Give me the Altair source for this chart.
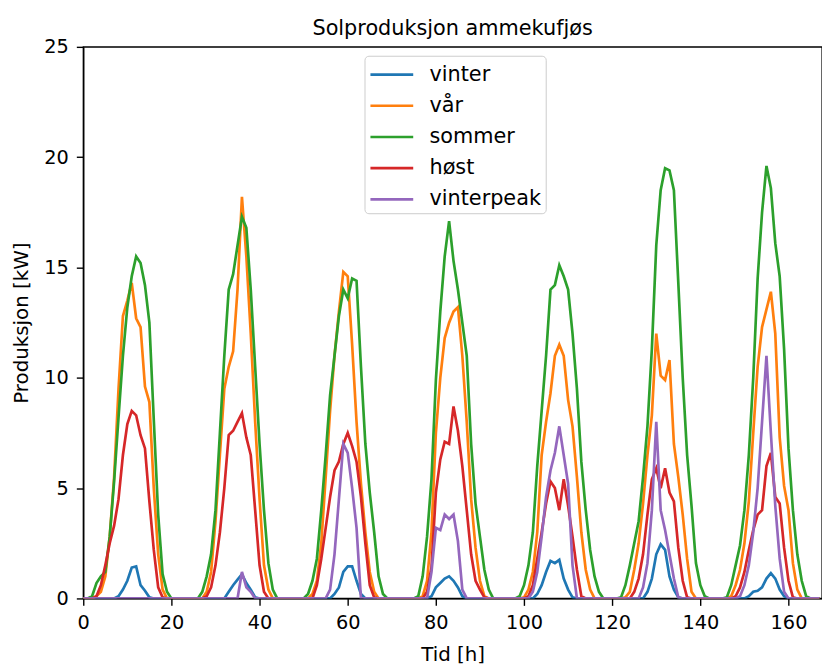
import altair as alt
import pandas as pd

# hourly production [kW] for one week (0..167 h)
vinter = [
    0, 0, 0, 0, 0, 0, 0, 0, 0.1, 0.4, 0.8, 1.4, 1.45, 0.6, 0.35, 0.05, 0, 0, 0, 0, 0, 0, 0, 0,
    0, 0, 0, 0, 0, 0, 0, 0, 0, 0.3, 0.6, 0.85, 1.1, 0.7, 0.4, 0.05, 0, 0, 0, 0, 0, 0, 0, 0,
    0, 0, 0, 0, 0, 0, 0, 0, 0, 0.2, 0.5, 1.2, 1.45, 1.45, 0.8, 0.2, 0, 0, 0, 0, 0, 0, 0, 0,
    0, 0, 0, 0, 0, 0, 0, 0.1, 0.5, 0.7, 0.9, 1.0, 0.8, 0.5, 0.1, 0, 0, 0, 0, 0, 0, 0, 0, 0,
    0, 0, 0, 0, 0, 0, 0, 0.2, 0.6, 1.2, 1.7, 1.6, 1.75, 0.9, 0.4, 0.05, 0, 0, 0, 0, 0, 0, 0, 0,
    0, 0, 0, 0, 0, 0, 0, 0, 0.3, 0.9, 2.0, 2.45, 2.2, 1.0, 0.4, 0.05, 0, 0, 0, 0, 0, 0, 0, 0,
    0, 0, 0, 0, 0, 0, 0, 0.1, 0.3, 0.35, 0.5, 0.9, 1.15, 0.9, 0.4, 0.1, 0, 0, 0, 0, 0, 0, 0, 0,
]
vaar = [
    0, 0, 0, 0.1, 0.3, 1.0, 2.8, 5.5, 9.5, 12.8, 13.5, 14.3, 12.7, 12.3, 9.6, 8.9, 5.0, 2.0, 0.4, 0, 0, 0, 0, 0,
    0, 0, 0, 0, 0.3, 1.2, 3.5, 6.5, 9.5, 10.5, 11.2, 14.0, 18.2, 15.5, 12.0, 8.0, 4.5, 1.5, 0.4, 0, 0, 0, 0, 0,
    0, 0, 0, 0, 0.2, 0.8, 2.5, 5.5, 8.5, 11.0, 13.0, 14.8, 14.6, 11.5, 8.0, 5.2, 3.0, 1.2, 0.3, 0, 0, 0, 0, 0,
    0, 0, 0, 0, 0, 0.1, 0.8, 3.0, 7.5, 10.0, 11.8, 12.5, 13.0, 13.2, 11.0, 8.0, 4.5, 2.3, 0.8, 0.1, 0, 0, 0, 0,
    0, 0, 0, 0, 0.05, 0.4, 1.2, 3.0, 6.5, 8.0, 9.3, 11.0, 11.5, 11.0, 9.0, 7.8, 5.5, 3.0, 1.3, 0.4, 0, 0, 0, 0,
    0, 0, 0, 0.05, 0.3, 1.3, 2.5, 4.3, 6.5, 8.3, 12.0, 10.1, 9.9, 10.8, 7.0, 5.5, 3.8, 1.8, 0.3, 0, 0, 0, 0, 0,
    0, 0, 0, 0.1, 0.6, 1.3, 2.5, 4.4, 7.5, 10.5, 12.3, 13.1, 13.9, 12.0, 7.3, 5.1, 4.0, 1.6, 0.4, 0, 0, 0, 0, 0,
]
sommer = [
    0, 0, 0.1, 0.7, 1.0, 1.2, 2.8, 5.3, 8.2, 11.0, 13.2, 14.6, 15.5, 15.2, 14.2, 12.5, 8.1, 3.8, 1.1, 0.3, 0, 0, 0, 0,
    0, 0, 0, 0.3, 1.0, 2.0, 4.0, 7.5, 11.0, 14.0, 14.7, 16.0, 17.3, 16.8, 14.0, 10.5, 7.0, 4.0, 1.6, 0.4, 0, 0, 0, 0,
    0, 0, 0, 0.2, 0.8, 1.8, 4.0, 6.5, 9.2, 11.0, 12.8, 14.0, 13.6, 14.5, 14.4, 10.5, 7.0, 4.8, 3.0, 1.0, 0.2, 0, 0, 0,
    0, 0, 0, 0, 0.1, 1.0, 2.8, 5.4, 9.9, 13.0, 15.5, 17.1, 15.3, 14.0, 12.5, 11.0, 7.0, 4.3, 2.8, 1.3, 0.4, 0, 0, 0,
    0, 0, 0, 0.1, 0.6, 1.5, 3.0, 6.0, 8.5, 11.0, 14.0, 14.2, 15.1, 14.6, 14.0, 12.0, 9.5, 6.2, 4.0, 2.2, 1.0, 0.3, 0, 0,
    0, 0, 0.05, 0.6, 1.5, 2.5, 3.5, 5.5, 7.8, 11.3, 16.0, 18.5, 19.5, 19.4, 18.5, 14.3, 10.0, 6.5, 4.2, 1.6, 0.6, 0.1, 0, 0,
    0, 0, 0.05, 0.6, 1.5, 2.4, 4.0, 6.5, 10.0, 14.5, 17.5, 19.6, 18.6, 16.1, 14.6, 11.3, 6.8, 4.0, 2.0, 0.8, 0.1, 0, 0, 0,
]
hoest = [
    0, 0, 0, 0.1, 0.6, 1.5, 2.5, 3.3, 4.5, 6.5, 7.9, 8.5, 8.3, 7.4, 6.8, 4.4, 2.2, 0.5, 0.05, 0, 0, 0, 0, 0,
    0, 0, 0, 0, 0.1, 0.5, 1.5, 3.0, 5.0, 7.4, 7.6, 8.0, 8.4, 7.3, 6.5, 4.0, 1.5, 0.3, 0, 0, 0, 0, 0, 0,
    0, 0, 0, 0, 0, 0.6, 1.8, 3.2, 4.6, 5.8, 6.2, 7.0, 7.5, 6.9, 6.2, 4.6, 2.5, 0.6, 0.05, 0, 0, 0, 0, 0,
    0, 0, 0, 0, 0, 0, 0.3, 1.4, 4.8, 6.3, 7.1, 7.0, 8.7, 7.6, 6.0, 4.0, 2.0, 0.8, 0.4, 0.05, 0, 0, 0, 0,
    0, 0, 0, 0, 0, 0.1, 0.6, 1.8, 3.0, 4.3, 5.3, 5.0, 4.0, 5.4, 4.2, 2.8, 1.3, 0.1, 0, 0, 0, 0, 0, 0,
    0, 0, 0, 0, 0, 0.3, 0.9, 2.0, 3.8, 5.4, 5.9, 5.0, 5.9, 4.8, 4.4, 2.3, 0.8, 0.05, 0, 0, 0, 0, 0, 0,
    0, 0, 0, 0, 0.1, 0.5, 1.2, 2.2, 3.1, 3.8, 4.0, 6.0, 6.6, 4.6, 4.3, 2.3, 0.8, 0.05, 0, 0, 0, 0, 0, 0,
]
vinterpeak = [
    0, 0, 0, 0, 0, 0, 0, 0, 0, 0, 0, 0, 0, 0, 0, 0, 0, 0, 0, 0, 0, 0, 0, 0,
    0, 0, 0, 0, 0, 0, 0, 0, 0, 0, 0, 0, 1.2, 0.5, 0.3, 0, 0, 0, 0, 0, 0, 0, 0, 0,
    0, 0, 0, 0, 0, 0, 0, 0, 0.4, 2.0, 4.5, 7.0, 6.6, 5.0, 3.2, 0, 0, 0, 0, 0, 0, 0, 0, 0,
    0, 0, 0, 0, 0, 0, 0, 1.2, 3.2, 3.1, 3.8, 3.6, 3.8, 2.6, 0.4, 0, 0, 0, 0, 0, 0, 0, 0, 0,
    0, 0, 0, 0, 0, 0, 0.3, 1.2, 2.8, 4.6, 5.8, 6.6, 7.8, 6.5, 5.2, 1.5, 0, 0, 0, 0, 0, 0, 0, 0,
    0, 0, 0, 0, 0, 0, 0, 0.5, 1.6, 4.0, 8.0, 4.0, 3.1, 2.0, 0.9, 0.05, 0, 0, 0, 0, 0, 0, 0, 0,
    0, 0, 0, 0, 0, 0.1, 0.6, 1.5, 3.0, 5.0, 8.0, 11.0, 7.5, 4.2, 1.8, 0.3, 0, 0, 0, 0, 0, 0, 0, 0,
]

series = ["vinter", "vår", "sommer", "høst", "vinterpeak"]
colors = ["#1f77b4", "#ff7f0e", "#2ca02c", "#d62728", "#9467bd"]

rows = []
for name, vals in zip(series, [vinter, vaar, sommer, hoest, vinterpeak]):
    for h, v in enumerate(vals):
        rows.append({"Tid": h, "Produksjon": v, "serie": name})
df = pd.DataFrame(rows)

font = "DejaVu Sans"

chart = alt.Chart(df).mark_line(strokeWidth=2.7, clip=True).encode(
    x=alt.X("Tid:Q",
            scale=alt.Scale(domain=[0, 167.6], nice=False, zero=False),
            axis=alt.Axis(title="Tid [h]", values=list(range(0, 161, 20)))),
    y=alt.Y("Produksjon:Q",
            scale=alt.Scale(domain=[0, 25], nice=False),
            axis=alt.Axis(title="Produksjon [kW]", values=[0, 5, 10, 15, 20, 25])),
    color=alt.Color("serie:N",
        scale=alt.Scale(domain=series, range=colors),
        legend=alt.Legend(
            title=None, orient="none", legendX=284, legendY=9,
            symbolType="M-1.6,0H1.6", symbolSize=729, symbolStrokeWidth=2.7,
            symbolOffset=8.6,
            labelFont=font, labelFontSize=21, labelColor="#000",
            labelOffset=23, rowPadding=6.5, padding=4,
            strokeColor="#cccccc", fillColor="rgba(255,255,255,0.8)",
            cornerRadius=4,
        )),
).properties(
    width=746,
    height=557,
    title=alt.TitleParams("Solproduksjon ammekufjøs", font=font, fontSize=21,
                          fontWeight="normal", color="#000", frame="group",
                          baseline="bottom", offset=-23),
    autosize=alt.AutoSizeParams(type="none"),
    padding={"left": 76, "top": 36, "right": 0, "bottom": 66},
).configure_axis(
    labelFont=font, labelFontSize=19.5, labelColor="#000", labelFlush=False,
    titleFont=font, titleFontSize=20, titleColor="#000", titleFontWeight="normal",
    domainColor="#000", domainWidth=1.4, tickColor="#000", tickWidth=1.4,
    tickSize=7, labelPadding=8, grid=False,
).configure_axisX(titlePadding=13).configure_axisY(titlePadding=12).configure_view(
    stroke="#000", strokeWidth=1.4
)

chart.save("out.html", embed_options={"renderer": "svg", "actions": False})
